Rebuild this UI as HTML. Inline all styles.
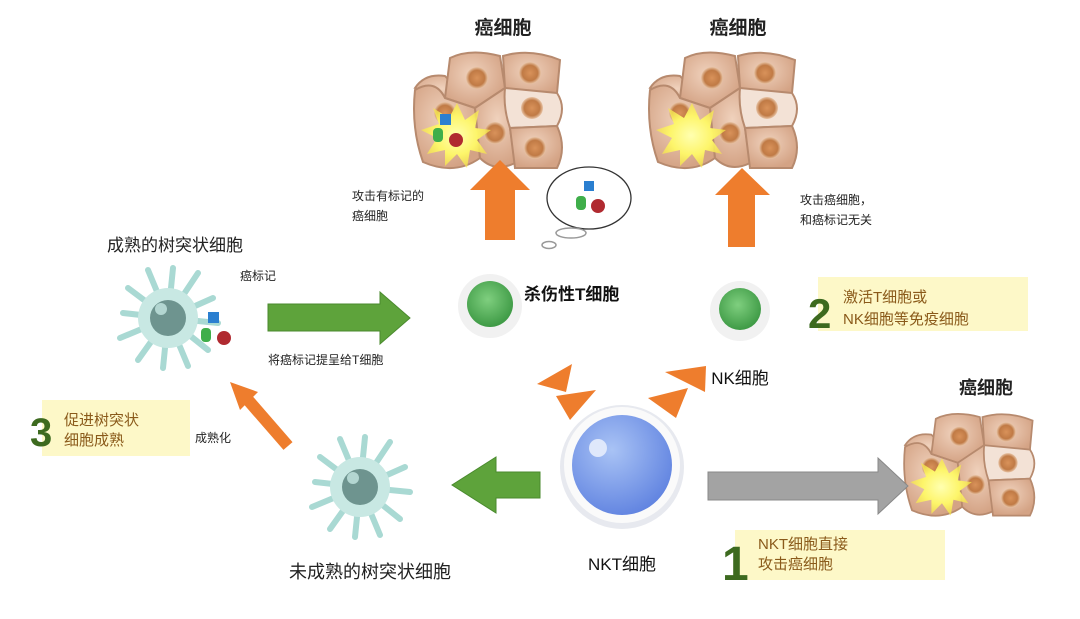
<!DOCTYPE html>
<html><head><meta charset="utf-8"><style>
body{margin:0;background:#fff}
svg{display:block}
text{font-family:"Liberation Sans","Noto Sans CJK SC",sans-serif}
</style></head><body>
<svg width="1080" height="619" viewBox="0 0 1080 619" xmlns="http://www.w3.org/2000/svg">
<defs>
<radialGradient id="nuc" cx="0.5" cy="0.5" r="0.5"><stop offset="0" stop-color="#d9925a"/><stop offset="0.7" stop-color="#c07a45"/><stop offset="1" stop-color="#e8c4a6"/></radialGradient>
<radialGradient id="cellg" cx="0.45" cy="0.4" r="0.6"><stop offset="0" stop-color="#f0d2bd"/><stop offset="1" stop-color="#d4a385"/></radialGradient>
<radialGradient id="green" cx="0.45" cy="0.4" r="0.6"><stop offset="0" stop-color="#7fcf7f"/><stop offset="1" stop-color="#3e9a45"/></radialGradient>
<radialGradient id="blue" cx="0.4" cy="0.35" r="0.7"><stop offset="0" stop-color="#a9c3f5"/><stop offset="1" stop-color="#5f82e0"/></radialGradient>
<radialGradient id="star" cx="0.5" cy="0.5" r="0.5"><stop offset="0" stop-color="#ffffb0"/><stop offset="0.6" stop-color="#fdf56a"/><stop offset="1" stop-color="#f7e84a" stop-opacity="0.7"/></radialGradient>
<g id="cluster">
  <path d="M0 40 Q10 25 30 28 L60 60 L30 50 Z" fill="url(#cellg)" stroke="#b78a6e" stroke-width="2"/>
  <path d="M35 10 Q55 0 85 8 L90 40 L60 60 L30 50 Z" fill="url(#cellg)" stroke="#b78a6e" stroke-width="2"/>
  <path d="M88 8 Q115 0 145 12 L142 45 L110 50 L90 40 Z" fill="url(#cellg)" stroke="#b78a6e" stroke-width="2"/>
  <path d="M0 42 Q20 30 30 50 L60 60 L65 110 Q40 128 8 114 Q-4 80 0 42 Z" fill="url(#cellg)" stroke="#b78a6e" stroke-width="2"/>
  <path d="M60 60 L90 40 L110 50 L95 80 L100 115 Q80 125 65 110 Z" fill="url(#cellg)" stroke="#b78a6e" stroke-width="2"/>
  <path d="M90 40 L142 45 Q152 60 142 78 L95 80 Q88 60 90 40 Z" fill="#f3e2d6" stroke="#b78a6e" stroke-width="2"/>
  <path d="M95 80 L142 78 Q152 100 142 120 L100 120 Z" fill="url(#cellg)" stroke="#b78a6e" stroke-width="2"/>
  <circle cx="62" cy="30" r="11" fill="url(#nuc)"/>
  <circle cx="115" cy="25" r="11" fill="url(#nuc)"/>
  <circle cx="117" cy="60" r="11" fill="url(#nuc)"/>
  <circle cx="120" cy="100" r="11" fill="url(#nuc)"/>
  <circle cx="80" cy="85" r="11" fill="url(#nuc)"/>
  <circle cx="30" cy="65" r="11" fill="url(#nuc)"/>
  <polygon points="42,55 50,72 64,62 60,80 76,82 62,92 72,106 55,102 52,120 42,106 30,118 30,102 12,106 22,90 6,82 24,76 18,60 34,70" fill="url(#star)"/>
</g>
<g id="dc" stroke="#a9d9d3" stroke-width="6" stroke-linecap="round" fill="none">
  <path d="M0 0 L-45 -5 M0 0 L-40 -30 M0 0 L-20 -48 M0 0 L5 -50 M0 0 L30 -45 M0 0 L45 -20 M0 0 L50 5 M0 0 L40 32 M0 0 L20 48 M0 0 L-5 50 M0 0 L-30 42 M0 0 L-48 20"/>
  <circle r="30" fill="#c8e8e3" stroke="none"/>
  <circle r="18" fill="#6e948f" stroke="none"/>
  <circle cx="-7" cy="-9" r="6" fill="#b3d6d1" stroke="none"/>
</g>
</defs>

<use href="#cluster" x="415" y="48"/>
<use href="#cluster" x="650" y="48"/>
<g transform="translate(905,410) scale(0.88)"><use href="#cluster"/></g>
<text x="503" y="34" font-size="19" font-weight="bold" text-anchor="middle" fill="#222">癌细胞</text>
<text x="738" y="34" font-size="19" font-weight="bold" text-anchor="middle" fill="#222">癌细胞</text>
<text x="986" y="394" font-size="18" font-weight="bold" text-anchor="middle" fill="#222">癌细胞</text>
<rect x="440" y="114" width="11" height="11" fill="#2b7fd0"/>
<rect x="433" y="128" width="10" height="14" rx="4" fill="#3fae4a"/>
<circle cx="456" cy="140" r="7" fill="#b02a30"/>

<polygon points="500,160 530,190 515,190 515,240 485,240 485,190 470,190" fill="#ee7d2d"/>
<polygon points="742,168 770,195 755,195 755,247 728,247 728,195 715,195" fill="#ee7d2d"/>

<ellipse cx="589" cy="198" rx="42" ry="31" fill="#fff" stroke="#333" stroke-width="1.3"/>
<ellipse cx="571" cy="233" rx="15" ry="5" fill="none" stroke="#999" stroke-width="1.5"/>
<ellipse cx="549" cy="245" rx="7" ry="3.5" fill="none" stroke="#999" stroke-width="1.5"/>
<rect x="584" y="181" width="10" height="10" fill="#2b7fd0"/>
<rect x="576" y="196" width="10" height="14" rx="4" fill="#3fae4a"/>
<circle cx="598" cy="206" r="7" fill="#b02a30"/>

<text x="352" y="200" font-size="12" fill="#222">攻击有标记的</text>
<text x="352" y="220" font-size="12" fill="#222">癌细胞</text>
<text x="800" y="204" font-size="12" fill="#222">攻击癌细胞，</text>
<text x="800" y="224" font-size="12" fill="#222">和癌标记无关</text>

<circle cx="490" cy="306" r="32" fill="#f1f1f1"/>
<circle cx="490" cy="304" r="23" fill="url(#green)"/>
<text x="524" y="300" font-size="17" font-weight="bold" fill="#111">杀伤性T细胞</text>

<circle cx="740" cy="311" r="30" fill="#f1f1f1"/>
<circle cx="740" cy="309" r="21" fill="url(#green)"/>
<text x="740" y="384" font-size="17" text-anchor="middle" fill="#111">NK细胞</text>

<rect x="818" y="277" width="210" height="54" fill="#fdf8c8"/>
<text x="808" y="328" font-size="42" font-weight="bold" fill="#3d6a1f">2</text>
<text x="843" y="302" font-size="15" fill="#8a5a1a">激活T细胞或</text>
<text x="843" y="324" font-size="15" fill="#8a5a1a">NK细胞等免疫细胞</text>

<polygon points="537,384 572,364 566,392" fill="#ee7d2d"/>
<polygon points="556,396 596,390 570,420" fill="#ee7d2d"/>
<polygon points="648,398 688,388 676,418" fill="#ee7d2d"/>
<polygon points="665,372 706,366 705,392" fill="#ee7d2d"/>

<circle cx="622" cy="467" r="62" fill="#e7e9ef"/>
<circle cx="622" cy="465" r="58" fill="#fafafa"/>
<circle cx="622" cy="465" r="50" fill="url(#blue)"/>
<circle cx="598" cy="448" r="9" fill="#dfe8fb"/>
<text x="622" y="570" font-size="17" text-anchor="middle" fill="#111">NKT细胞</text>

<polygon points="708,472 878,472 878,458 908,486 878,514 878,500 708,500" fill="#a3a3a3" stroke="#888" stroke-width="1"/>

<rect x="735" y="530" width="210" height="50" fill="#fdf8c8"/>
<text x="722" y="580" font-size="48" font-weight="bold" fill="#3d6a1f">1</text>
<text x="758" y="549" font-size="15" fill="#8a5a1a">NKT细胞直接</text>
<text x="758" y="569" font-size="15" fill="#8a5a1a">攻击癌细胞</text>

<polygon points="540,472 496,472 496,457 452,485 496,513 496,498 540,498" fill="#5ea33b" stroke="#4a8a2e" stroke-width="1"/>

<use href="#dc" x="360" y="487"/>
<text x="370" y="578" font-size="18" text-anchor="middle" fill="#222">未成熟的树突状细胞</text>

<line x1="288" y1="446" x2="248" y2="400" stroke="#ee7d2d" stroke-width="12"/>
<polygon points="230,382 258,392 240,410" fill="#ee7d2d"/>
<text x="195" y="442" font-size="12" fill="#222">成熟化</text>

<rect x="42" y="400" width="148" height="56" fill="#fdf8c8"/>
<text x="30" y="446" font-size="40" font-weight="bold" fill="#3d6a1f">3</text>
<text x="64" y="425" font-size="15" fill="#8a5a1a">促进树突状</text>
<text x="64" y="445" font-size="15" fill="#8a5a1a">细胞成熟</text>

<use href="#dc" x="168" y="318"/>
<rect x="208" y="312" width="11" height="11" fill="#2b7fd0"/>
<rect x="201" y="328" width="10" height="14" rx="4" fill="#3fae4a"/>
<circle cx="224" cy="338" r="7" fill="#b02a30"/>
<text x="175" y="251" font-size="17" text-anchor="middle" fill="#222">成熟的树突状细胞</text>
<text x="240" y="280" font-size="12" fill="#222">癌标记</text>

<polygon points="268,304 380,304 380,292 410,318 380,344 380,331 268,331" fill="#5ea33b" stroke="#4a8a2e" stroke-width="1"/>
<text x="268" y="364" font-size="12" fill="#222">将癌标记提呈给T细胞</text>
</svg>
</body></html>
